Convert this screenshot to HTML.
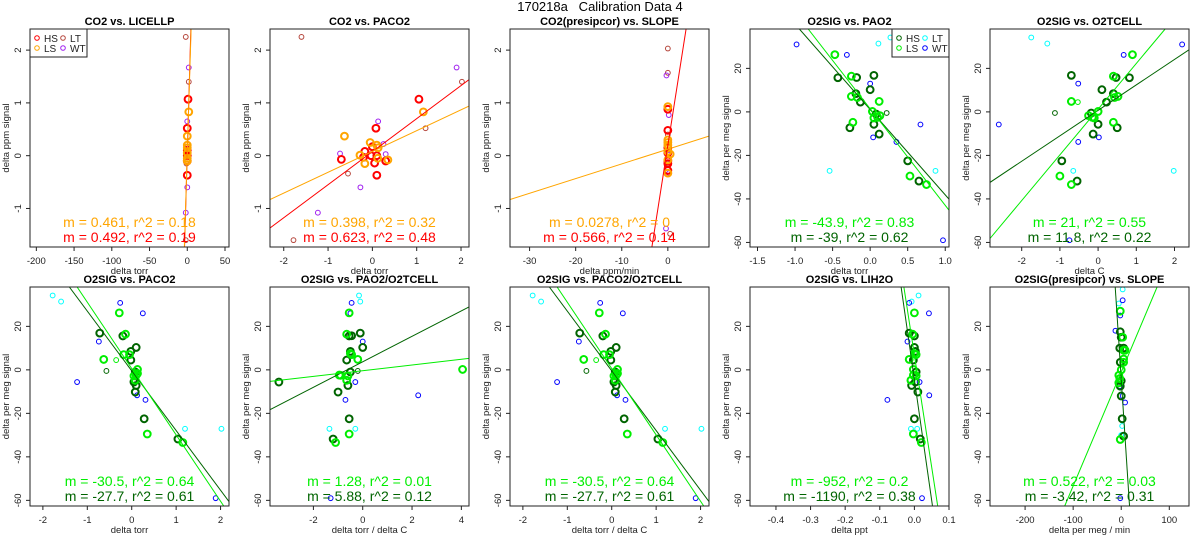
<!DOCTYPE html>
<html><head><meta charset="utf-8"><style>
html,body{margin:0;background:#fff;width:1200px;height:550px;overflow:hidden;}
svg{display:block;font-family:"Liberation Sans",sans-serif;}
</style></head><body>
<svg id="c" width="1200" height="550" xmlns="http://www.w3.org/2000/svg">
<text x="600" y="11" text-anchor="middle" font-size="13" style="white-space:pre" xml:space="preserve">170218a   Calibration Data 4</text>
</svg>
<script>
// ---------- data ----------
// Panel 1: CO2 vs LICELLP
const p1HSx=[1,0,0,0,0,0], p1HSy=[1.07,0.52,-0.37,0.0,-0.1,0.1];
const p1LSx=[2,0,0,0,0,0,0], p1LSy=[0.83,0.37,0.15,0.05,-0.05,-0.1,0.2];
const p1LTx=[-2,2,-2,-1], p1LTy=[2.25,1.4,-1.6,-0.15];
const p1WTx=[2,0,0,0,0,-2], p1WTy=[1.67,0.65,0.22,0.04,-0.6,-1.08];
const p1Slope=[0.492,0.461], p1Int=[0.05,0.05];
// Panel 2: CO2 vs PACO2
const p2HSx=[1.05,0.08,-0.7,-0.17,-0.2,0,-0.03,0.05,0.1,0.3,0.1], p2HSy=[1.07,0.52,-0.07,0.08,-0.03,0.17,0,-0.14,-0.37,-0.1,0.0];
const p2LSx=[1.15,-0.63,-0.05,0.1,0.13,-0.28,-0.17,0.35,0.12], p2LSy=[0.83,0.37,0.25,0.2,0.15,0.01,-0.15,-0.08,-0.05];
const p2LTx=[-1.6,2.02,1.2,-0.55,-1.78], p2LTy=[2.25,1.4,0.52,-0.34,-1.6];
const p2WTx=[1.9,0.13,0.25,-0.73,0.3,-0.27,-1.23], p2WTy=[1.67,0.65,0.22,0.04,0.03,-0.6,-1.08];
const p2Slope=[0.626,0.394], p2Int=[0.076,0.08];
// Panel 3: CO2(presipcor) vs SLOPE
const p3HSx=[0,0,0,0,0,0,0], p3HSy=[0.48,0.88,0.15,0.05,-0.1,-0.28,-0.15];
const p3LSx=[0,0,0,0,0.5,0,0,0], p3LSy=[0.93,0.3,0.25,0.2,0.03,-0.08,-0.33,0.08];
const p3LTx=[0,0,0,0,0.5], p3LTy=[2.03,1.57,0.4,-0.15,-1.48];
const p3WTx=[-0.3,0.2,0,0,0.3,-0.4], p3WTy=[1.52,0.77,0.1,0.05,-0.33,-1.38];
const p3Slope=[0.557,0.0278], p3Int=[0.197,0.122];
// Panel 4: O2SIG vs PAO2
const p4HSx=[0.05,-0.43,-0.18,-0.19,-0.13,0,0.08,0.05,-0.27,0.12,0.5,0.65], p4HSy=[16.8,15.7,15.8,8.4,4.5,10.2,-1,-5.7,-7.3,-10.2,-22.5,-31.8];
const p4LSx=[-0.47,-0.25,-0.25,-0.17,0.12,0.03,0.05,0.13,0.1,-0.23,0.53,0.75], p4LSy=[26.3,16.4,7.1,6.6,4.8,0.2,-2.8,-1.7,-2.5,-4.8,-29.5,-33.4];
const p4HStx=[0.22], p4HSty=[-0.5], p4LStx=[], p4LSty=[];
const p4LTx=[0.27,0.11,-0.54,0.87], p4LTy=[34.2,31.4,-27.1,-27.1];
const p4WTx=[-0.98,-0.31,0,0.04,0.35,0.67,0.97], p4WTy=[31,26.2,13,-11.7,-13.8,-5.8,-59];
const p4Slope=[-39.25,-44.4], p4Int=[1.1,1.45];
// Panel 5: O2SIG vs O2TCELL
const p5HSx=[-0.7,0.47,0.82,0.1,0.4,0.22,-0.18,0,0.5,-0.13,-0.95,-0.55], p5HSy=[16.8,15.8,15.7,10.2,8.4,4.5,-0.5,-5.7,-7.3,-10.2,-22.5,-31.8];
const p5LSx=[0.9,0.4,0.52,0.43,-0.7,0,-0.1,-0.25,-0.15,0.4,-1,-0.7], p5LSy=[26.3,16.4,7.1,6.6,4.8,0.2,-2.8,-1.7,-2.5,-4.8,-29.5,-33.4];
const p5HStx=[-1.13], p5HSty=[-0.5], p5LStx=[-0.53], p5LSty=[4.5];
const p5LTx=[-1.75,-1.33,-0.65,1.98], p5LTy=[34.2,31.4,-27.1,-27.1];
const p5WTx=[2.2,0.67,-0.52,0.02,-0.52,-2.6,-0.75], p5WTy=[31,26.2,13,-11.7,-13.8,-5.8,-59];
const p5Slope=[11.7,21], p5Int=[0.7,1.25];
// Panel 6 & 8: O2SIG vs PACO2 (and PACO2/O2TCELL)
const p6HSx=[-0.72,-0.2,0.1,-0.02,-0.02,0.08,0.05,0.1,0.08,0.28,1.04], p6HSy=[16.9,15.6,10.3,8.5,4.5,-1,-5.6,-7.2,-10.2,-22.5,-31.8];
const p6LSx=[-0.28,-0.14,-0.18,-0.05,-0.63,0.13,0.05,0.13,0.1,0.08,0.35,1.15], p6LSy=[26.2,16.4,7,7,4.8,0.2,-2.8,-1.7,-2.5,-4.8,-29.5,-33.4];
const p6HStx=[-0.57], p6HSty=[-0.5], p6LStx=[-0.35], p6LSty=[4.5];
const p6LTx=[-1.78,-1.59,1.2,2.02], p6LTy=[34.2,31.4,-27.1,-27.1];
const p6WTx=[-0.26,0.25,-0.74,0.12,0.31,-1.23,1.89], p6WTy=[30.8,26,13,-11.7,-13.8,-5.6,-59];
const p6Slope=[-27.45,-30.5], p6Int=[-0.45,0.6];
// Panel 7: O2SIG vs PAO2/O2TCELL
const p7HSx=[-3.4,-0.1,-0.45,-0.55,0,-0.5,-0.65,-0.5,-0.6,-1,-0.55,-1.2], p7HSy=[-5.6,16.9,15.7,15.6,10.3,8.5,4.5,-1,-7.2,-10.2,-22.5,-31.8];
const p7LSx=[-0.55,-0.65,-0.45,-0.5,-0.2,4.05,-0.6,-0.9,-0.95,-0.65,-0.55,-1.1], p7LSy=[26.2,16.4,7,7.5,4.8,0.2,-2.8,-2.5,-2.4,-4.8,-29.5,-33.4];
const p7HStx=[-0.2], p7HSty=[-0.5], p7LStx=[], p7LSty=[];
const p7LTx=[-0.15,-0.1,-1.35,-0.3], p7LTy=[34.2,31.4,-27.1,-27.1];
const p7WTx=[-0.45,-0.5,0,2.25,-0.7,-0.3,-1.3], p7WTy=[30.8,26,13,-11.7,-13.8,-5.6,-59];
const p7Slope=[5.86,1.31], p7Int=[3.7,-0.39];
// Panel 9: O2SIG vs LIH2O
const p9HSx=[-0.015,0,0,0.003,-0.003,0.005,0.003,-0.008,0.01,0,0.017], p9HSy=[16.9,15.6,10.3,8.5,4.5,-1,-5.6,-7.2,-10.2,-22.5,-31.8];
const p9LSx=[0,-0.005,0.005,0,-0.015,-0.003,0.005,-0.003,-0.01,-0.003,0.02], p9LSy=[26.2,16.4,7,7.5,4.8,0.2,-2.8,-2.5,-4.8,-29.5,-33.4];
const p9HStx=[], p9HSty=[], p9LStx=[], p9LSty=[];
const p9LTx=[-0.008,0.012,-0.01,0.008], p9LTy=[31.4,34.2,-27.1,-27.1];
const p9WTx=[-0.015,0.042,-0.02,0.015,0.043,-0.078,0.022], p9WTy=[30.8,26,13,-5.6,-11.7,-13.8,-59];
const p9Slope=[-1111,-1031], p9Int=[-4.5,6.8];
// Panel 10: O2SIG(presipcor) vs SLOPE
const p10HSx=[-2,0,-3,5,-2,0,-2,0,2,5], p10HSy=[17.5,15,10,10,3.5,-5,-7.5,-12,-22.5,-30.5];
const p10LSx=[-2,3,5,8,5,5,0,-5,-3,-5,-2], p10LSy=[27,15,9,9,5,3.5,0,-2.5,-4,-6,-32];
const p10HStx=[], p10HSty=[], p10LStx=[], p10LSty=[];
const p10LTx=[3,-5,2,0], p10LTy=[37,30.5,-25.8,-30];
const p10WTx=[3,-2,-12,-3,3,8,-2], p10WTy=[32,25,18,-7.5,-12,-15,-59];
const p10Slope=[-3.38,0.524], p10Int=[-4.2,-1];
// Tick labels
const co2YTicks=[-1,0,1,2];
const o2YTicks=[-60,-40,-20,0,20];
const p1XTicks=[-200,-150,-100,-50,0,50];
const p2XTicks=[-2,-1,0,1,2];
const p3XTicks=[-30,-20,-10,0];
const p4XTicks=["-1.5","-1.0","-0.5","0.0","0.5","1.0"];
const p5XTicks=[-2,-1,0,1,2];
const p7XTicks=[-2,0,2,4];
const p9XTicks=["-0.4","-0.3","-0.2","-0.1","0.0","0.1"];
const p10XTicks=[-200,-100,0,100];
const statsP1=["m = 0.461, r^2 = 0.18","m = 0.492, r^2 = 0.19"];
const statsP2=["m = 0.398, r^2 = 0.32","m = 0.623, r^2 = 0.48"];
const statsP3=["m = 0.0278, r^2 = 0","m = 0.566, r^2 = 0.14"];
const statsP4=["m = -43.9, r^2 = 0.83","m = -39, r^2 = 0.62"];
const statsP5=["m = 21, r^2 = 0.55","m = 11.8, r^2 = 0.22"];
const statsP6=["m = -30.5, r^2 = 0.64","m = -27.7, r^2 = 0.61"];
const statsP7=["m = 1.28, r^2 = 0.01","m = 5.88, r^2 = 0.12"];
const statsP9=["m = -952, r^2 = 0.2","m = -1190, r^2 = 0.38"];
const statsP10=["m = 0.522, r^2 = 0.03","m = -3.42, r^2 = 0.31"];

// ---------- drawing ----------
const svg=document.getElementById('c');
const NS="http://www.w3.org/2000/svg";
function mk(tag,attrs,parent){const e=document.createElementNS(NS,tag);for(const k in attrs)e.setAttribute(k,attrs[k]);(parent||svg).appendChild(e);return e;}
const CO2C={HS:"#ff0000",LS:"#ffa500",LT:"#b5463c",WT:"#a020f0"};
const O2C={HS:"#006400",LS:"#00ee00",LT:"#00ffff",WT:"#0000ff"};
let clipId=0;
function panel(o){
  const g=mk('g',{});
  
  
  const L=o.x0,R=o.x0+199,T=o.y0,B=o.y0+218+(o.row2?1:0);
  const sx=v=>L+(v-o.xmin)/(o.xmax-o.xmin)*(R-L);
  const sy=v=>B-(v-o.ymin)/(o.ymax-o.ymin)*(B-T);
  const t=mk('text',{x:(L+R)/2,y:T-4,'text-anchor':'middle','font-size':11,'font-weight':'bold'},g);
  t.textContent=o.title;
  
  
  const id='cl'+(clipId++);
  const cp=mk('clipPath',{id:id},g);mk('rect',{x:L,y:T,width:R-L,height:B-T},cp);
  const pg=mk('g',{'clip-path':'url(#'+id+')'},g);
  const C=o.colors;
  function pts(xs,ys,col,thick,nm){
    for(let i=0;i<xs.length;i++){
      const c=mk('circle',{cx:sx(xs[i]),cy:sy(ys[i]),r:thick?3.4:2.4,fill:'none',stroke:col,'stroke-width':thick?2:1},pg);
      
      
    }
  }
  pts(o.LTx,o.LTy,C.LT,false,'point-lt');
  pts(o.WTx,o.WTy,C.WT,false,'point-wt');
  if(o.HStx)pts(o.HStx,o.HSty,C.HS,false,'point-hs-thin');
  if(o.LStx)pts(o.LStx,o.LSty,C.LS,false,'point-ls-thin');
  pts(o.HSx,o.HSy,C.HS,true,'point-hs');
  pts(o.LSx,o.LSy,C.LS,true,'point-ls');
  const lc=[C.HS,C.LS];
  for(let k=0;k<2;k++){
    const m=o.slope[k],b=o.int[k];
    let xa=o.xmin,xb=o.xmax;
    if(m!==0){
      const x1=(o.ymin-b)/m,x2=(o.ymax-b)/m;
      xa=Math.max(xa,Math.min(x1,x2));xb=Math.min(xb,Math.max(x1,x2));
    }
    if(xb<=xa)continue;
    const ln=mk('line',{x1:sx(xa),y1:sy(m*xa+b),x2:sx(xb),y2:sy(m*xb+b),stroke:lc[k],'stroke-width':1},pg);
    
    
  }
  mk('rect',{x:L,y:T,width:R-L,height:B-T,fill:'none',stroke:'#222','stroke-width':1},g);
  o.xt.forEach(v=>{const X=sx(parseFloat(v));mk('line',{x1:X,y1:B,x2:X,y2:B+4,stroke:'#222'},g);
    const tx=mk('text',{x:X,y:B+17,'text-anchor':'middle','font-size':9.5,fill:'#222'},g);tx.textContent=String(v);
    
    });
  o.yt.forEach(v=>{const Y=sy(v);mk('line',{x1:L,y1:Y,x2:L-4,y2:Y,stroke:'#222'},g);
    const tx=mk('text',{x:L-9,y:Y,'text-anchor':'middle','font-size':9.5,fill:'#222',transform:'rotate(-90 '+(L-9)+' '+Y+')'},g);tx.textContent=String(v);
    
    });
  const xl=mk('text',{x:(L+R)/2,y:B+27,'text-anchor':'middle','font-size':9.5,fill:'#222'},g);xl.textContent=o.xlab;
  
  
  const yx=L-21,yy=(T+B)/2;
  const yl=mk('text',{x:yx,y:yy,'text-anchor':'middle','font-size':9.5,fill:'#222',transform:'rotate(-90 '+yx+' '+yy+')'},g);yl.textContent=o.ylab;
  
  
  const s1=mk('text',{x:(L+R)/2,y:B-20,'text-anchor':'middle','font-size':14,fill:C.LS},g);s1.textContent=o.stats[0];
  
  
  const s2=mk('text',{x:(L+R)/2,y:B-5,'text-anchor':'middle','font-size':14,fill:C.HS},g);s2.textContent=o.stats[1];
  
  
  if(o.legend){
    const lx=o.legend==='left'?L:R-57;
    const lg=mk('g',{},g);
    
    
    mk('rect',{x:lx,y:T,width:57,height:28,fill:'#fff',stroke:'#222'},lg);
    const ent=[['HS',7,9],['LS',7,19],['LT',33,9],['WT',33,19]];
    ent.forEach(e=>{mk('circle',{cx:lx+e[1],cy:T+e[2],r:2.3,fill:'none',stroke:C[e[0]],'stroke-width':1},lg);
      const tt=mk('text',{x:lx+e[1]+7,y:T+e[2]+4,'font-size':10,fill:'#222'},lg);tt.textContent=e[0];
      
      });
  }
}
const r1=29,r2=287;
const co2Y={ymin:-1.73,ymax:2.4,yt:co2YTicks,ylab:'delta ppm signal',colors:CO2C};
const o2Y1={ymin:-62.1,ymax:38.1,yt:o2YTicks,ylab:'delta per meg signal',colors:O2C};
const o2Y2={ymin:-62.6,ymax:38.1,yt:o2YTicks,ylab:'delta per meg signal',colors:O2C,row2:true};
</script>
<script>
const D={
1:{HSx:p1HSx,HSy:p1HSy,LSx:p1LSx,LSy:p1LSy,LTx:p1LTx,LTy:p1LTy,WTx:p1WTx,WTy:p1WTy,slope:p1Slope,int:p1Int},
2:{HSx:p2HSx,HSy:p2HSy,LSx:p2LSx,LSy:p2LSy,LTx:p2LTx,LTy:p2LTy,WTx:p2WTx,WTy:p2WTy,slope:p2Slope,int:p2Int},
3:{HSx:p3HSx,HSy:p3HSy,LSx:p3LSx,LSy:p3LSy,LTx:p3LTx,LTy:p3LTy,WTx:p3WTx,WTy:p3WTy,slope:p3Slope,int:p3Int},
4:{HSx:p4HSx,HSy:p4HSy,LSx:p4LSx,LSy:p4LSy,HStx:p4HStx,HSty:p4HSty,LStx:p4LStx,LSty:p4LSty,LTx:p4LTx,LTy:p4LTy,WTx:p4WTx,WTy:p4WTy,slope:p4Slope,int:p4Int},
5:{HSx:p5HSx,HSy:p5HSy,LSx:p5LSx,LSy:p5LSy,HStx:p5HStx,HSty:p5HSty,LStx:p5LStx,LSty:p5LSty,LTx:p5LTx,LTy:p5LTy,WTx:p5WTx,WTy:p5WTy,slope:p5Slope,int:p5Int},
6:{HSx:p6HSx,HSy:p6HSy,LSx:p6LSx,LSy:p6LSy,HStx:p6HStx,HSty:p6HSty,LStx:p6LStx,LSty:p6LSty,LTx:p6LTx,LTy:p6LTy,WTx:p6WTx,WTy:p6WTy,slope:p6Slope,int:p6Int},
7:{HSx:p7HSx,HSy:p7HSy,LSx:p7LSx,LSy:p7LSy,HStx:p7HStx,HSty:p7HSty,LStx:p7LStx,LSty:p7LSty,LTx:p7LTx,LTy:p7LTy,WTx:p7WTx,WTy:p7WTy,slope:p7Slope,int:p7Int},
9:{HSx:p9HSx,HSy:p9HSy,LSx:p9LSx,LSy:p9LSy,HStx:p9HStx,HSty:p9HSty,LStx:p9LStx,LSty:p9LSty,LTx:p9LTx,LTy:p9LTy,WTx:p9WTx,WTy:p9WTy,slope:p9Slope,int:p9Int},
10:{HSx:p10HSx,HSy:p10HSy,LSx:p10LSx,LSy:p10LSy,HStx:p10HStx,HSty:p10HSty,LStx:p10LStx,LSty:p10LSty,LTx:p10LTx,LTy:p10LTy,WTx:p10WTx,WTy:p10WTy,slope:p10Slope,int:p10Int}
};
const cfg=[
 [1,{name:'panel-co2-licellp',title:'CO2 vs. LICELLP',x0:30,y0:r1,xmin:-208.4,xmax:55.3,xt:p1XTicks,xlab:'delta torr',stats:statsP1,legend:'left'},co2Y],
 [2,{name:'panel-co2-paco2',title:'CO2 vs. PACO2',x0:270,y0:r1,xmin:-2.31,xmax:2.18,xt:p2XTicks,xlab:'delta torr',stats:statsP2},co2Y],
 [3,{name:'panel-co2-slope',title:'CO2(presipcor) vs. SLOPE',x0:510,y0:r1,xmin:-34.25,xmax:8.93,xt:p3XTicks,xlab:'delta ppm/min',stats:statsP3},co2Y],
 [4,{name:'panel-o2sig-pao2',title:'O2SIG vs. PAO2',x0:750,y0:r1,xmin:-1.6,xmax:1.05,xt:p4XTicks,xlab:'delta torr',stats:statsP4,legend:'right'},o2Y1],
 [5,{name:'panel-o2sig-o2tcell',title:'O2SIG vs. O2TCELL',x0:990,y0:r1,xmin:-2.83,xmax:2.38,xt:p5XTicks,xlab:'delta C',stats:statsP5},o2Y1],
 [6,{name:'panel-o2sig-paco2',title:'O2SIG vs. PACO2',x0:30,y0:r2,xmin:-2.29,xmax:2.19,xt:p5XTicks,xlab:'delta torr',stats:statsP6},o2Y2],
 [7,{name:'panel-o2sig-pao2-o2tcell',title:'O2SIG vs. PAO2/O2TCELL',x0:270,y0:r2,xmin:-3.76,xmax:4.31,xt:p7XTicks,xlab:'delta torr / delta C',stats:statsP7},o2Y2],
 [6,{name:'panel-o2sig-paco2-o2tcell',title:'O2SIG vs. PACO2/O2TCELL',x0:510,y0:r2,xmin:-2.29,xmax:2.19,xt:p5XTicks,xlab:'delta torr / delta C',stats:statsP6},o2Y2],
 [9,{name:'panel-o2sig-lih2o',title:'O2SIG vs. LIH2O',x0:750,y0:r2,xmin:-0.475,xmax:0.1,xt:p9XTicks,xlab:'delta ppt',stats:statsP9},o2Y2],
 [10,{name:'panel-o2sig-slope',title:'O2SIG(presipcor) vs. SLOPE',x0:990,y0:r2,xmin:-273,xmax:141,xt:p10XTicks,xlab:'delta per meg / min',stats:statsP10},o2Y2]
];
cfg.forEach(c=>panel(Object.assign({},c[2],c[1],D[c[0]])));
</script>
</body></html>
